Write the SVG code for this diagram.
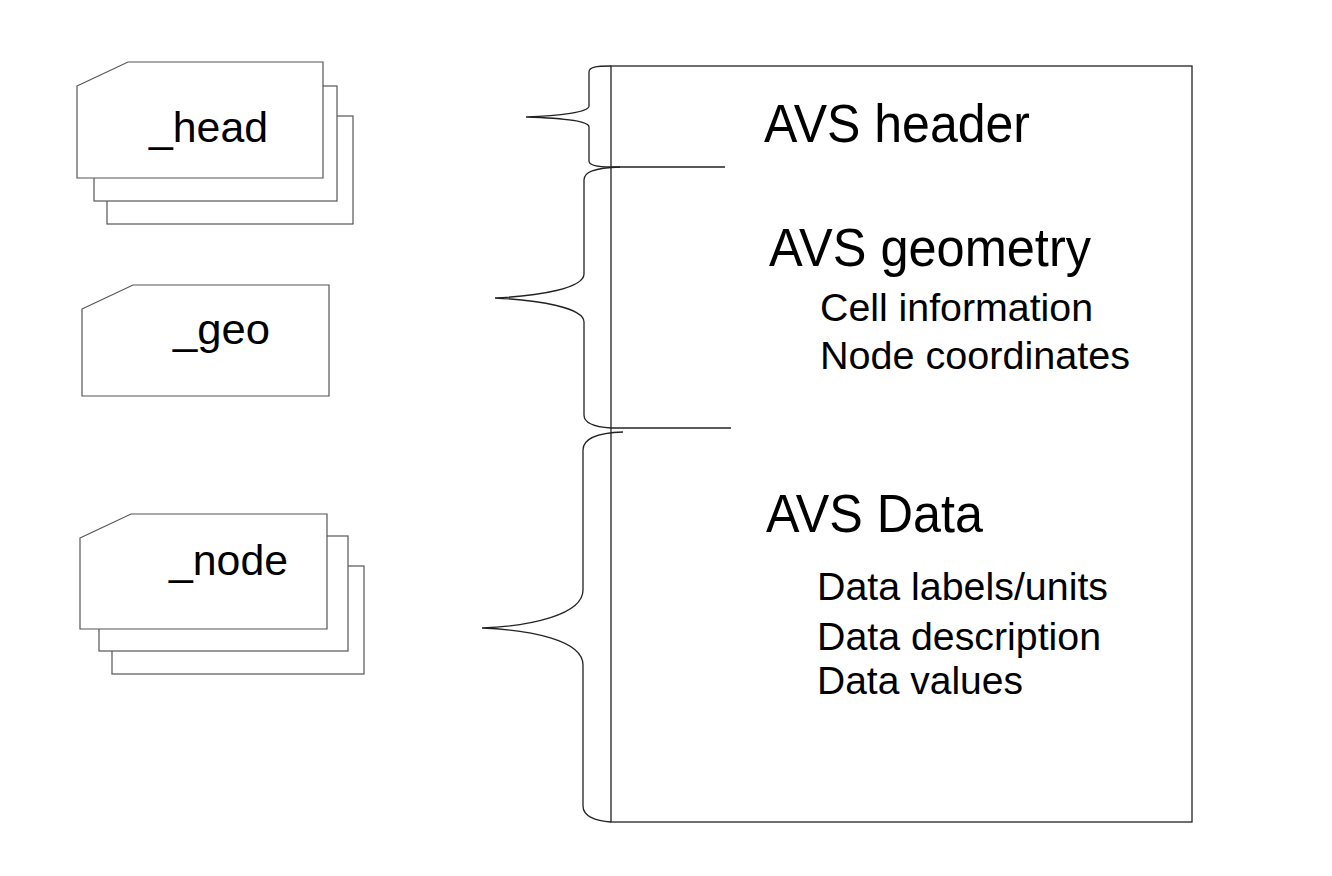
<svg xmlns="http://www.w3.org/2000/svg" width="1332" height="876" viewBox="0 0 1332 876">
<style>
.card{fill:#fff;stroke:#555;stroke-width:1.2}
.ln{fill:none;stroke:#222;stroke-width:1.3}
.big{font-family:"Liberation Sans",Arial,sans-serif;font-size:53px;fill:#000}
.sub{font-family:"Liberation Sans",Arial,sans-serif;font-size:38px;fill:#000}
.lbl{font-family:"Liberation Sans",Arial,sans-serif;font-size:43px;fill:#000}
</style>
<rect width="1332" height="876" fill="#fff"/>
<g id="head">
<rect class="card" x="107" y="116" width="246" height="108"/>
<rect class="card" x="94" y="86" width="243" height="115"/>
<path class="card" d="M77,86 L128,62 L323,62 L323,178 L77,178 Z"/>
<text class="lbl" x="149" y="142" textLength="119" lengthAdjust="spacingAndGlyphs">_head</text>
</g>
<g id="geo">
<path class="card" d="M82,309 L133,285 L329,285 L329,396 L82,396 Z"/>
<text class="lbl" x="173" y="344" textLength="97" lengthAdjust="spacingAndGlyphs">_geo</text>
</g>
<g id="node">
<rect class="card" x="112" y="566" width="252" height="108"/>
<rect class="card" x="99" y="536" width="249" height="115"/>
<path class="card" d="M80,538 L131,514 L327,514 L327,629 L80,629 Z"/>
<text class="lbl" x="169" y="575" textLength="119" lengthAdjust="spacingAndGlyphs">_node</text>
</g>
<g id="file">
<rect class="ln" x="611" y="66" width="581" height="756"/>
<text class="big" x="764" y="142" textLength="266" lengthAdjust="spacingAndGlyphs">AVS header</text>
<text class="big" x="769" y="266" textLength="322" lengthAdjust="spacingAndGlyphs">AVS geometry</text>
<text class="sub" x="820" y="321" textLength="273" lengthAdjust="spacingAndGlyphs">Cell information</text>
<text class="sub" x="820" y="369" textLength="310" lengthAdjust="spacingAndGlyphs">Node coordinates</text>
<text class="big" x="766" y="532" textLength="217" lengthAdjust="spacingAndGlyphs">AVS Data</text>
<text class="sub" x="817" y="600" textLength="291" lengthAdjust="spacingAndGlyphs">Data labels/units</text>
<text class="sub" x="817" y="650" textLength="284" lengthAdjust="spacingAndGlyphs">Data description</text>
<text class="sub" x="817" y="694" textLength="206" lengthAdjust="spacingAndGlyphs">Data values</text>
</g>
<g id="connectors">
<path class="ln" d="M611,66 C596,66 589,67 589,72 L589,106 C589,112 560,116 526,117 C560,118 589,121 589,127 L589,161 C589,166 600,167 611,167"/>
<path class="ln" d="M611,167 L725,167"/>
<path class="ln" d="M620,167 C594,168 584,172 584,180 L584,274 C584,288 540,296 495,298 C540,300 584,308 584,322 L584,415 C584,423 595,427 611,428"/>
<path class="ln" d="M611,428 L731,428"/>
<path class="ln" d="M623,432 C595,433 583,440 583,450 L583,590 C583,615 530,626 482,628 C530,630 583,640 583,665 L583,806 C583,816 595,821 611,822"/>
</g>
</svg>
